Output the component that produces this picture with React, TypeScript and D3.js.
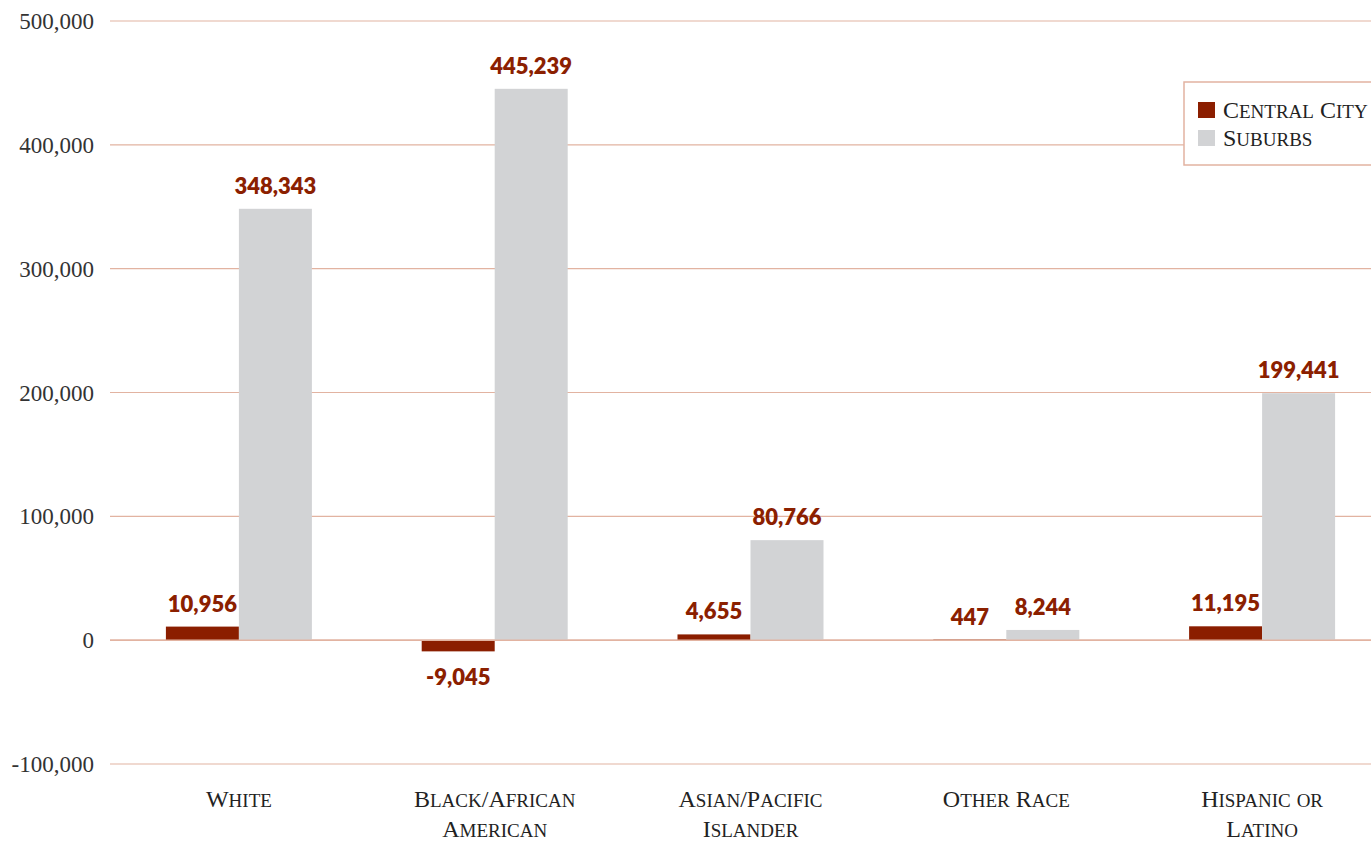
import React from "react";
import * as d3 from "d3";

const categories = [
  ["White"],
  ["Black/African", "American"],
  ["Asian/Pacific", "Islander"],
  ["Other Race"],
  ["Hispanic or", "Latino"],
];
const categoryKeys = ["White", "Black", "Asian", "Other", "Hispanic"];
const seriesNames = ["Central City", "Suburbs"];
const centralCity = [10956, -9045, 4655, 447, 11195];
const suburbs = [348343, 445239, 80766, 8244, 199441];
const yTicks = [-100000, 0, 100000, 200000, 300000, 400000, 500000];

const W = 1371;
const H = 841;
const colors = ["#8B1E00", "#D2D3D5"];
const labelColor = "#8B2000";
const gridColor = "#E2B3A1";
const serif = "'Liberation Serif', 'Times New Roman', serif";
const sans = "Lato, 'Open Sans', sans-serif";

const locale = d3.formatLocale({
  decimal: ".",
  thousands: ",",
  grouping: [3],
  currency: ["$", ""],
  minus: "-",
});
const fmt = locale.format(",");

function SmallCaps({ text, big = 24, small = 19 }: { text: string; big?: number; small?: number }) {
  // group consecutive chars by case to build tspans
  const parts: { s: string; big: boolean }[] = [];
  for (const ch of text) {
    const isBig = ch !== ch.toLowerCase() || ch === "/" || ch === " ";
    const last = parts[parts.length - 1];
    if (last && last.big === isBig) last.s += ch;
    else parts.push({ s: ch, big: isBig });
  }
  return (
    <>
      {parts.map((p, i) => (
        <tspan key={i} fontSize={p.big ? big : small}>
          {p.s.toUpperCase()}
        </tspan>
      ))}
    </>
  );
}

export default function App() {
  const x0 = d3.scaleBand<string>().domain(categoryKeys).range([111, 1390]);
  const groupW = 146;
  const x1 = d3.scaleBand<string>().domain(seriesNames).range([0, groupW]);
  const y = d3.scaleLinear().domain([-100000, 500000]).range([764, 21]);
  const seriesValues = [centralCity, suburbs];

  return (
    <svg
      width={W}
      height={H}
      style={{ position: "absolute", left: 0, top: 0, background: "#fff" }}
    >
      {yTicks.map((t) => (
        <g key={t}>
          <line x1={110} x2={W} y1={y(t)} y2={y(t)} stroke={gridColor} strokeWidth={1.2} />
          <text
            x={94}
            y={y(t)}
            dy="0.35em"
            textAnchor="end"
            fontFamily={serif}
            fontSize={23}
            fill="#333"
          >
            {fmt(t)}
          </text>
        </g>
      ))}
      {categoryKeys.map((c, i) => {
        const gx = (x0(c) as number) + (x0.bandwidth() - groupW) / 2;
        return (
          <g key={c}>
            {seriesNames.map((s, j) => {
              const v = seriesValues[j][i];
              const bx = gx + (x1(s) as number);
              const top = Math.min(y(v), y(0));
              const h = Math.abs(y(v) - y(0));
              return (
                <rect key={s} x={bx} y={top} width={x1.bandwidth()} height={h} fill={colors[j]} />
              );
            })}
          </g>
        );
      })}
      <line x1={110} x2={W} y1={y(0)} y2={y(0)} stroke={gridColor} strokeWidth={1.5} />
      {categoryKeys.map((c, i) => {
        const gx = (x0(c) as number) + (x0.bandwidth() - groupW) / 2;
        const cx0 = (x0(c) as number) + x0.bandwidth() / 2;
        return (
          <g key={c + "l"}>
            {seriesNames.map((s, j) => {
              const v = seriesValues[j][i];
              const cx = gx + (x1(s) as number) + x1.bandwidth() / 2;
              const ly = v >= 0 ? y(v) - 15 : y(v) + 34;
              return (
                <text
                  key={s}
                  x={cx}
                  y={ly}
                  textAnchor="middle"
                  fontFamily={sans}
                  fontWeight={800}
                  fontSize={22}
                  fill={labelColor}
                >
                  {fmt(v)}
                </text>
              );
            })}
            {categories[i].map((line, k) => (
              <text
                key={k}
                x={cx0}
                y={807 + k * 30}
                textAnchor="middle"
                fontFamily={serif}
                fill="#222"
              >
                <SmallCaps text={line} />
              </text>
            ))}
          </g>
        );
      })}
      <g>
        <rect x={1184} y={82} width={220} height={83} fill="#fff" stroke={gridColor} strokeWidth={1.5} />
        {seriesNames.map((s, j) => (
          <g key={s}>
            <rect x={1198} y={102 + j * 28} width={17} height={16} fill={colors[j]} />
            <text x={1223} y={118 + j * 28} fontFamily={serif} fill="#222">
              <SmallCaps text={s} />
            </text>
          </g>
        ))}
      </g>
    </svg>
  );
}
